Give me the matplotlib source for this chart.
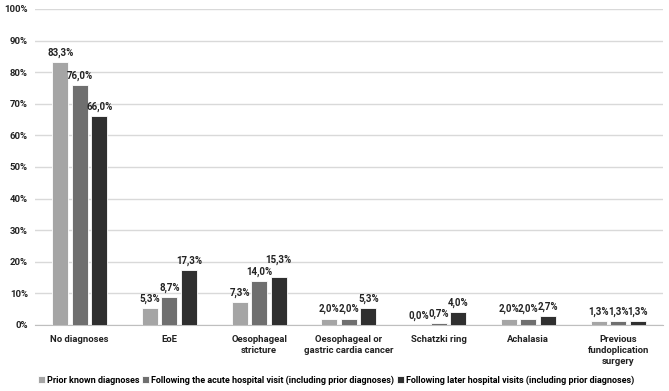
import matplotlib
matplotlib.use('Agg')
import matplotlib.pyplot as plt
import numpy as np

plt.rcParams['font.family'] = ['Roboto', 'DejaVu Sans']
plt.rcParams['font.weight'] = 'bold'

categories = ['No diagnoses', 'EoE', 'Oesophageal\nstricture',
              'Oesophageal or\ngastric cardia cancer', 'Schatzki ring',
              'Achalasia', 'Previous\nfundoplication\nsurgery']
prior = [83.3, 5.3, 7.3, 2.0, 0.0, 2.0, 1.3]
acute = [76.0, 8.7, 14.0, 2.0, 0.7, 2.0, 1.3]
later = [66.0, 17.3, 15.3, 5.3, 4.0, 2.7, 1.3]
series_names = ['Prior known diagnoses',
                'Following the acute hospital visit (including prior diagnoses)',
                'Following later hospital visits (including prior diagnoses)']
colors = ['#a5a5a5', '#6f6f6f', '#2f2f2f']

# labels that excel nudged up to avoid overlapping (series, category) -> extra points
bump = {(2, 2): 5}

fig = plt.figure(figsize=(6.69, 3.91), dpi=100)
ax = fig.add_axes([0.052, 0.169, 0.939, 0.808])

x = np.arange(len(categories))
offsets = [-0.217, 0, 0.217]
for si, (vals, off, c, name) in enumerate(zip([prior, acute, later], offsets, colors, series_names)):
    bars = ax.bar(x + off, vals, width=0.18, color=c, edgecolor='white', linewidth=0.6, label=name, zorder=3)
    for ci, (b, v) in enumerate(zip(bars, vals)):
        ax.annotate(('%.1f%%' % v).replace('.', ','), (b.get_x() + b.get_width() / 2, v),
                    xytext=(0, 3 + bump.get((si, ci), 0)), textcoords='offset points',
                    ha='center', va='bottom', fontsize=7, fontweight='bold', color='#222222')

ax.set_xlim(-0.5, 6.5)
ax.set_ylim(0, 100)
ax.set_yticks(np.arange(0, 101, 10))
ax.set_yticklabels(['%d%%' % t for t in range(0, 101, 10)])
ax.set_xticks(x)
ax.set_xticklabels(categories, linespacing=1.3)
ax.grid(axis='y', color='#d9d9d9', linewidth=1, zorder=0)
for s in ['top', 'right', 'left']:
    ax.spines[s].set_visible(False)
ax.spines['bottom'].set_color('#bfbfbf')
ax.tick_params(axis='both', length=0, labelsize=6.8, colors='#222222')
ax.tick_params(axis='x', pad=7)
ax.tick_params(axis='y', pad=5)

fig.legend(loc='lower left', bbox_to_anchor=(0.045, -0.005), ncol=3, frameon=False,
           fontsize=6.5, handlelength=0.7, handleheight=0.7, handletextpad=0.3,
           columnspacing=0.3)

fig.savefig('out.png', dpi=100)
